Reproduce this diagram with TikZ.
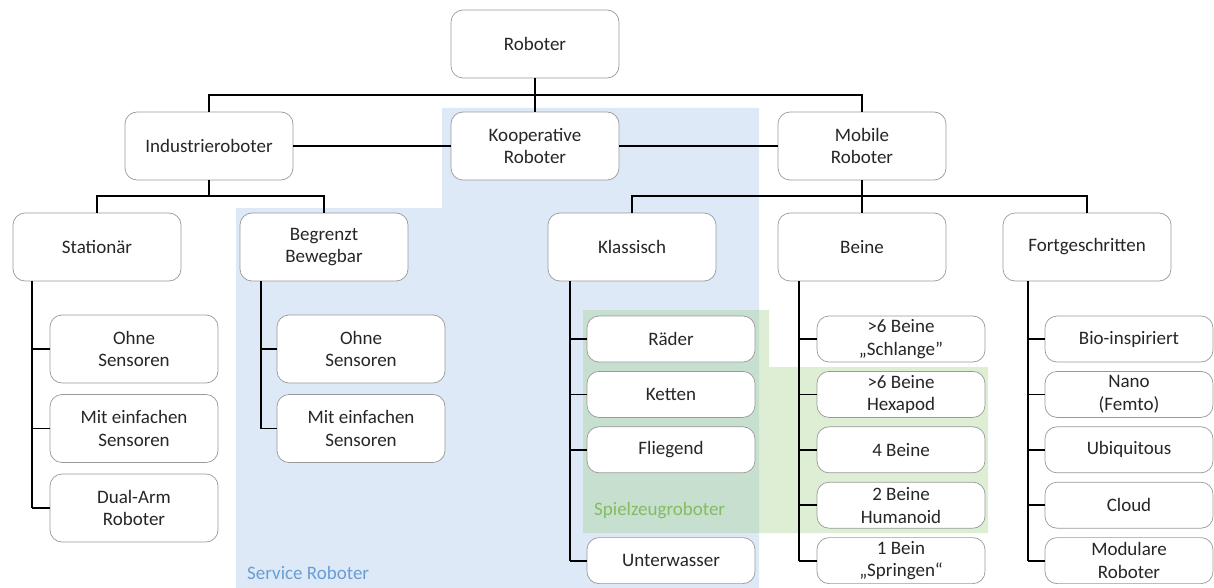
\documentclass[tikz,border=0pt]{standalone}
\usepackage{fontspec}
\setmainfont{Carlito}
\usepackage{tikz}

\definecolor{serviceblue}{RGB}{221,233,246}
\definecolor{toygreen}{RGB}{160,205,135}
\definecolor{servicetext}{RGB}{105,158,212}
\definecolor{toytext}{RGB}{132,188,98}

\tikzset{
  every node/.style={font=\fontsize{19}{22.7}\selectfont, text=black!85},
  bigbox/.style={draw=black!40, line width=0.7pt, fill=white, rounded corners=12pt,
    minimum width=168pt, minimum height=68pt, inner sep=1pt, align=center},
  smallbox/.style={bigbox, minimum height=46pt},
  link/.style={line width=1.8pt, black}
}

\begin{document}
\begin{tikzpicture}[x=1pt,y=-1pt]
\useasboundingbox (0,0) rectangle (1214,588);

% shaded groups
\fill[serviceblue] (236,588) -- (236,208) -- (442,208) -- (442,108) -- (759,108) -- (759,588) -- cycle;
\fill[toygreen, fill opacity=0.35] (583,310) -- (769,310) -- (769,367) -- (988,367) -- (988,533) -- (583,533) -- cycle;
\node[anchor=west, inner sep=0, text=servicetext] (service) at (247,573) {Service Roboter};
\node[anchor=west, inner sep=0, text=toytext] (toy) at (594,511) {Spielzeugroboter};

% upper levels
\node[bigbox] (robo) at (535,44) {Roboter};
\node[bigbox] (indus) at (209,146) {Industrieroboter};
\node[bigbox] (koop) at (535,146) {Kooperative\\Roboter};
\node[bigbox] (mobil) at (862,146) {Mobile\\Roboter};
\node[bigbox] (stat) at (97,247) {Stationär};
\node[bigbox] (begr) at (324,247) {Begrenzt\\Bewegbar};
\node[bigbox] (klass) at (632,247) {Klassisch};
\node[bigbox] (beine) at (862,247) {Beine};
\node[bigbox] (fort) at (1087,247) {Fortgeschritten};

\coordinate (topbar) at (535,95);
\coordinate (ibar) at (209,196);
\coordinate (mbar) at (862,196);
\draw[link] (robo.south) -- (koop.north);
\draw[link] (indus.north) |- (topbar) -| (mobil.north);
\draw[link] (indus.east) -- (koop.west);
\draw[link] (koop.east) -- (mobil.west);
\draw[link] (indus.south) -- (ibar);
\draw[link] (stat.north) |- (ibar) -| (begr.north);
\draw[link] (mobil.south) -- (beine.north);
\draw[link] (klass.north) |- (mbar) -| (fort.north);

% trunks of the lists
\coordinate (stat-trunk) at (32,0);
\coordinate (begr-trunk) at (261,0);
\coordinate (klass-trunk) at (570,0);
\coordinate (beine-trunk) at (799,0);
\coordinate (fort-trunk) at (1028,0);

% Stationaer
\foreach \i/\t in {1/{Ohne\\Sensoren}, 2/{Mit einfachen\\Sensoren}, 3/{Dual-Arm\\Roboter}}
  \node[bigbox] (s\i) at (134,{349+79.5*(\i-1)}) {\t};
\draw[link] (stat.south -| stat-trunk) -- (s3.west -| stat-trunk);
\foreach \i in {1,2,3}
  \draw[link] (s\i.west -| stat-trunk) -- (s\i.west);

% Begrenzt bewegbar
\foreach \i/\t in {1/{Ohne\\Sensoren}, 2/{Mit einfachen\\Sensoren}}
  \node[bigbox] (b\i) at (361,{349+79.5*(\i-1)}) {\t};
\draw[link] (begr.south -| begr-trunk) -- (b2.west -| begr-trunk);
\foreach \i in {1,2}
  \draw[link] (b\i.west -| begr-trunk) -- (b\i.west);

% Klassisch
\foreach \i/\t in {1/R{\"a}der, 2/Ketten, 3/Fliegend, 5/Unterwasser}
  \node[smallbox] (k\i) at (671,{339+55.4*(\i-1)}) {\t};
\draw[link] (klass.south -| klass-trunk) -- (k5.west -| klass-trunk);
\foreach \i in {1,2,3,5}
  \draw[link] (k\i.west -| klass-trunk) -- (k\i.west);

% Beine
\foreach \i/\t in {1/{>6 Beine\\„Schlange”}, 2/{>6 Beine\\Hexapod}, 3/{4 Beine}, 4/{2 Beine\\Humanoid}, 5/{1 Bein\\„Springen“}}
  \node[smallbox] (l\i) at (901,{339+55.4*(\i-1)}) {\t};
\draw[link] (beine.south -| beine-trunk) -- (l5.west -| beine-trunk);
\foreach \i in {1,...,5}
  \draw[link] (l\i.west -| beine-trunk) -- (l\i.west);

% Fortgeschritten
\foreach \i/\t in {1/Bio-inspiriert, 2/{Nano\\(Femto)}, 3/Ubiquitous, 4/Cloud, 5/{Modulare\\Roboter}}
  \node[smallbox] (f\i) at (1129,{339+55.4*(\i-1)}) {\t};
\draw[link] (fort.south -| fort-trunk) -- (f5.west -| fort-trunk);
\foreach \i in {1,...,5}
  \draw[link] (f\i.west -| fort-trunk) -- (f\i.west);
\end{tikzpicture}
\end{document}
